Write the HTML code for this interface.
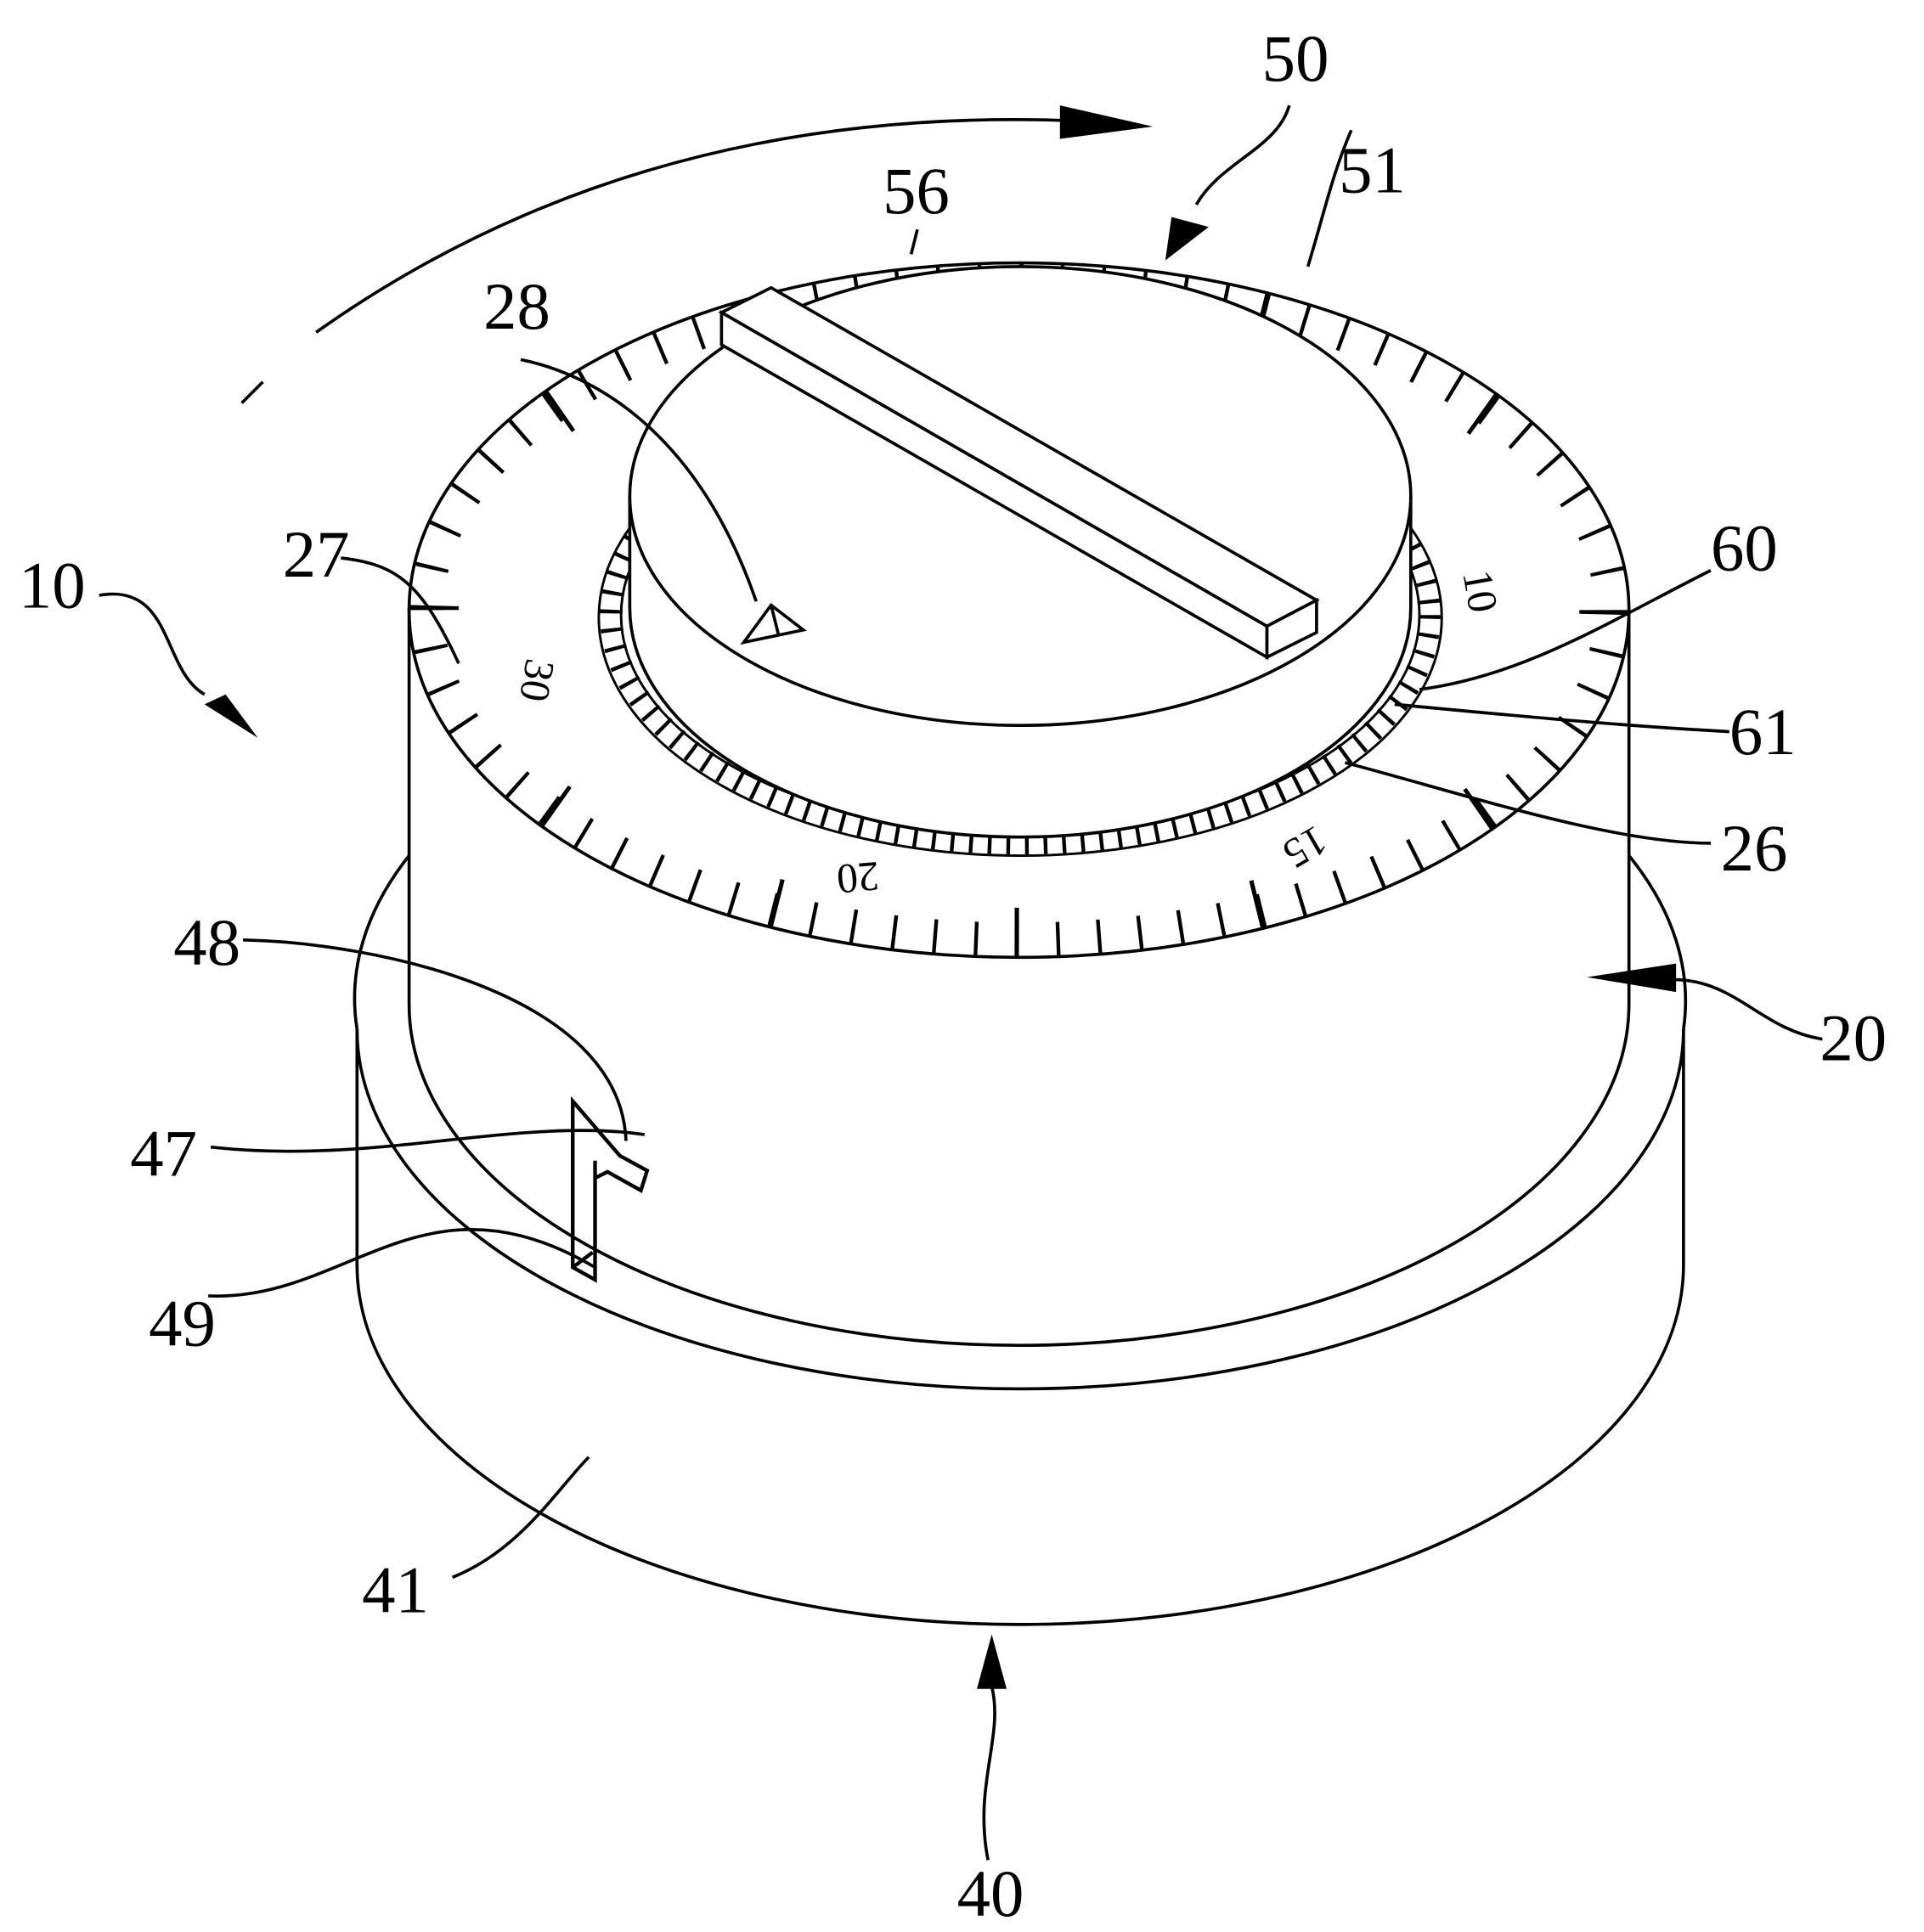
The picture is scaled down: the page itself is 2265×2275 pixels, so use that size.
<!DOCTYPE html>
<html><head><meta charset="utf-8"><style>
html,body{margin:0;padding:0;background:#fff}
svg{display:block}
text{font-family:"Liberation Serif","DejaVu Serif",serif;font-size:54px;fill:#000}
.n{font-size:34px}
</style></head><body>
<svg width="2265" height="2275" viewBox="0 0 1552 1558" preserveAspectRatio="none" xmlns="http://www.w3.org/2000/svg">
<defs>
<clipPath id="ring"><ellipse cx="822" cy="492" rx="492" ry="280"/></clipPath>
</defs>
<g fill="none" stroke="#000" stroke-width="2.5">
<path d="M288,830 L288,1020 A535,290 0 0,0 1358,1020 L1358,830" fill="#fff"/>
<path d="M288,830 A535,290 0 0,0 1358,830"/>
<path d="M288,830 A535,290 0 0,1 330,690"/>
<path d="M1358,830 A535,290 0 0,0 1314,690"/>
<path d="M330,490 L330,810 A492,275 0 0,0 1314,810 L1314,490" fill="#fff"/>
<ellipse cx="822" cy="492" rx="492" ry="280" fill="#fff"/>
</g>
<g clip-path="url(#ring)" fill="none" stroke="#000">
<ellipse cx="822" cy="492" rx="478" ry="266" stroke-width="28" stroke-dasharray="3 30.125"/>
<ellipse cx="822" cy="492" rx="472" ry="260" stroke-width="40" stroke-dasharray="3.5 192.18"/>
</g>
<g fill="none" stroke="#000" stroke-width="2.5">
<ellipse cx="823" cy="498" rx="340" ry="192" fill="#fff" stroke-width="2"/>
<ellipse cx="823" cy="496" rx="330" ry="184" stroke-width="18" stroke-dasharray="3 12"/>
<ellipse cx="823" cy="496" rx="322" ry="176" stroke-width="2"/>
<path d="M508,400 L508,490 A315,185 0 0,0 1138,490 L1138,400" fill="#fff"/>
<ellipse cx="823" cy="400" rx="315" ry="185" fill="#fff"/>
<polygon points="582,252 622,232 1062,484 1022,505" fill="#fff"/>
<polygon points="582,252 1022,505 1022,530 582,278" fill="#fff"/>
<polygon points="1022,505 1062,484 1062,510 1022,530" fill="#fff"/>
<polygon points="600,518 622,488 648,508" fill="#fff"/>
<line x1="622" y1="488" x2="628" y2="512"/>
<path d="M462,888 L462,1022 L480,1032 L480,950 L490,945 L517,960 L522,944 L500,932 L462,888 Z M480,950 L480,936 M462,1022 L478,1010" stroke-width="3"/>
<path d="M255,268 Q520,80 880,98"/>
<polygon points="855,85 930,102 855,112" fill="#000" stroke="none"/>
<line x1="195" y1="325" x2="212" y2="308"/>
<path d="M80,480 C140,470 130,540 165,560"/>
<polygon points="165,568 208,595 182,560" fill="#000" stroke="none"/>
<path d="M1040,85 C1030,120 985,130 965,165"/>
<polygon points="945,175 940,210 975,183" fill="#000" stroke="none"/>
<path d="M1470,838 C1420,830 1400,790 1350,790"/>
<polygon points="1280,788 1352,777 1352,800" fill="#000" stroke="none"/>
<path d="M797,1500 C785,1440 810,1400 800,1360"/>
<polygon points="800,1318 788,1362 812,1362" fill="#000" stroke="none"/>
<path d="M275,450 C320,455 340,470 370,535"/>
<path d="M420,290 C470,300 560,340 610,485"/>
<path d="M740,185 L735,205"/>
<path d="M1090,105 C1075,140 1070,165 1055,215"/>
<path d="M1380,460 C1300,500 1230,545 1145,556"/>
<path d="M1395,590 C1300,585 1200,575 1125,568"/>
<path d="M1380,680 C1300,680 1180,640 1085,615"/>
<path d="M196,758 C300,760 500,800 505,920"/>
<path d="M170,925 C300,940 420,900 520,915"/>
<path d="M168,1045 C280,1050 340,940 480,1022"/>
<path d="M365,1272 C420,1250 450,1200 475,1175"/>
</g>
<g>
<text x="15" y="490">10</text>
<text x="1018" y="65">50</text>
<text x="1080" y="155">51</text>
<text x="712" y="172">56</text>
<text x="390" y="265">28</text>
<text x="228" y="465">27</text>
<text x="1380" y="460">60</text>
<text x="1395" y="608">61</text>
<text x="1388" y="702">26</text>
<text x="1468" y="855">20</text>
<text x="140" y="778">48</text>
<text x="105" y="948">47</text>
<text x="120" y="1085">49</text>
<text x="292" y="1300">41</text>
<text x="772" y="1545">40</text>
<text class="n" transform="translate(425,530) rotate(100)">30</text>
<text class="n" transform="translate(1180,462) rotate(80)">10</text>
<text class="n" transform="translate(1062,665) rotate(150)">15</text>
<text class="n" transform="translate(708,695) rotate(175)">20</text>
</g>
</svg>
</body></html>
